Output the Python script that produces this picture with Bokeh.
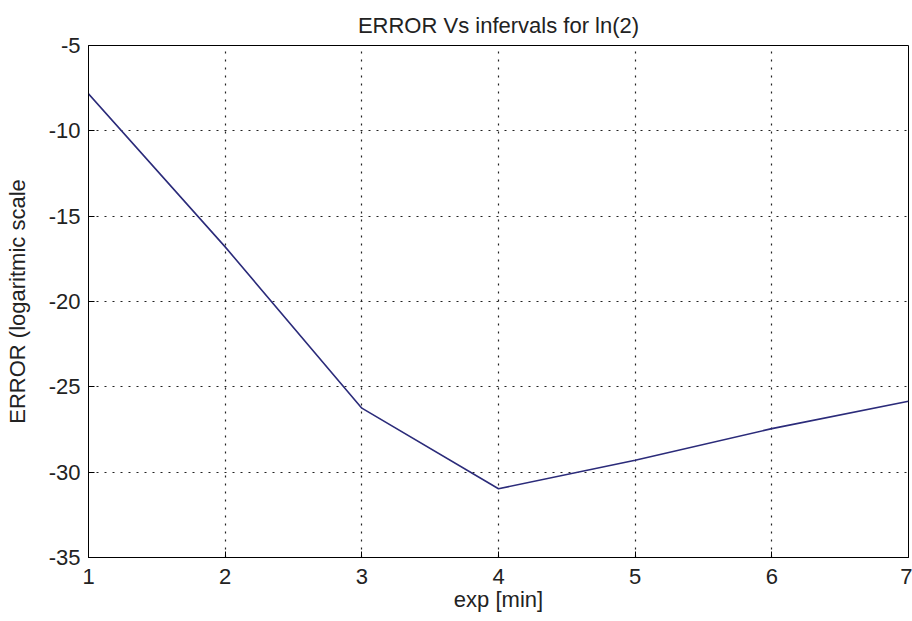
from bokeh.plotting import figure
from bokeh.models import FixedTicker
from bokeh.embed import file_html
from bokeh.resources import INLINE

# Data
exp_min = [1, 2, 3, 4, 5, 6, 7]
error_log = [-7.83, -16.8, -26.25, -30.97, -29.3, -27.45, -25.85]

x_ticks = [1, 2, 3, 4, 5, 6, 7]
y_ticks = [-35, -30, -25, -20, -15, -10, -5]
y_tick_labels = ["-35", "-30", "-25", "-20", "-15", "-10", "-5"]

title_text = "ERROR Vs infervals for ln(2)"
x_label = "exp [min]"
y_label = "ERROR (logaritmic scale"

FONT = "Liberation Sans"

p = figure(width=912, height=621, x_range=(1, 7), y_range=(-35, -5),
           output_backend="svg", toolbar_location=None,
           min_border_left=88, min_border_right=4, min_border_top=45, min_border_bottom=64,
           title=title_text)

p.background_fill_color = "white"
p.border_fill_color = "white"
p.outline_line_color = "black"
p.outline_line_width = 1

p.title.align = "center"
p.title.text_font = FONT
p.title.text_font_size = "22px"
p.title.text_font_style = "normal"
p.title.text_color = "#222222"
p.title.standoff = 16

p.line(exp_min, error_log, line_color="#2b2b7a", line_width=1.6)

for ax in (p.xaxis[0], p.yaxis[0]):
    ax.axis_line_color = "black"
    ax.major_tick_in = 6
    ax.major_tick_out = 0
    ax.minor_tick_line_color = None
    ax.major_tick_line_color = "black"
    ax.major_label_text_font = FONT
    ax.major_label_text_font_size = "22px"
    ax.major_label_text_color = "#222222"
    ax.axis_label_text_font = FONT
    ax.axis_label_text_font_size = "22px"
    ax.axis_label_text_font_style = "normal"
    ax.axis_label_text_color = "#222222"
    ax.major_label_standoff = 8

p.xaxis[0].ticker = FixedTicker(ticks=x_ticks)
p.yaxis[0].ticker = FixedTicker(ticks=y_ticks)
p.yaxis[0].major_label_overrides = {t: s for t, s in zip(y_ticks, y_tick_labels)}
p.xaxis[0].axis_label = x_label
p.yaxis[0].axis_label = y_label
p.xaxis[0].major_label_standoff = 11
p.xaxis[0].axis_label_standoff = 0
p.yaxis[0].axis_label_standoff = 16

for g in (p.xgrid[0], p.ygrid[0]):
    g.grid_line_color = "#222222"
    g.grid_line_dash = "2 6"
    g.grid_line_width = 1.2
p.xgrid[0].ticker = FixedTicker(ticks=x_ticks)
p.ygrid[0].ticker = FixedTicker(ticks=y_ticks)

open("out.html", "w").write(file_html(p, INLINE))
